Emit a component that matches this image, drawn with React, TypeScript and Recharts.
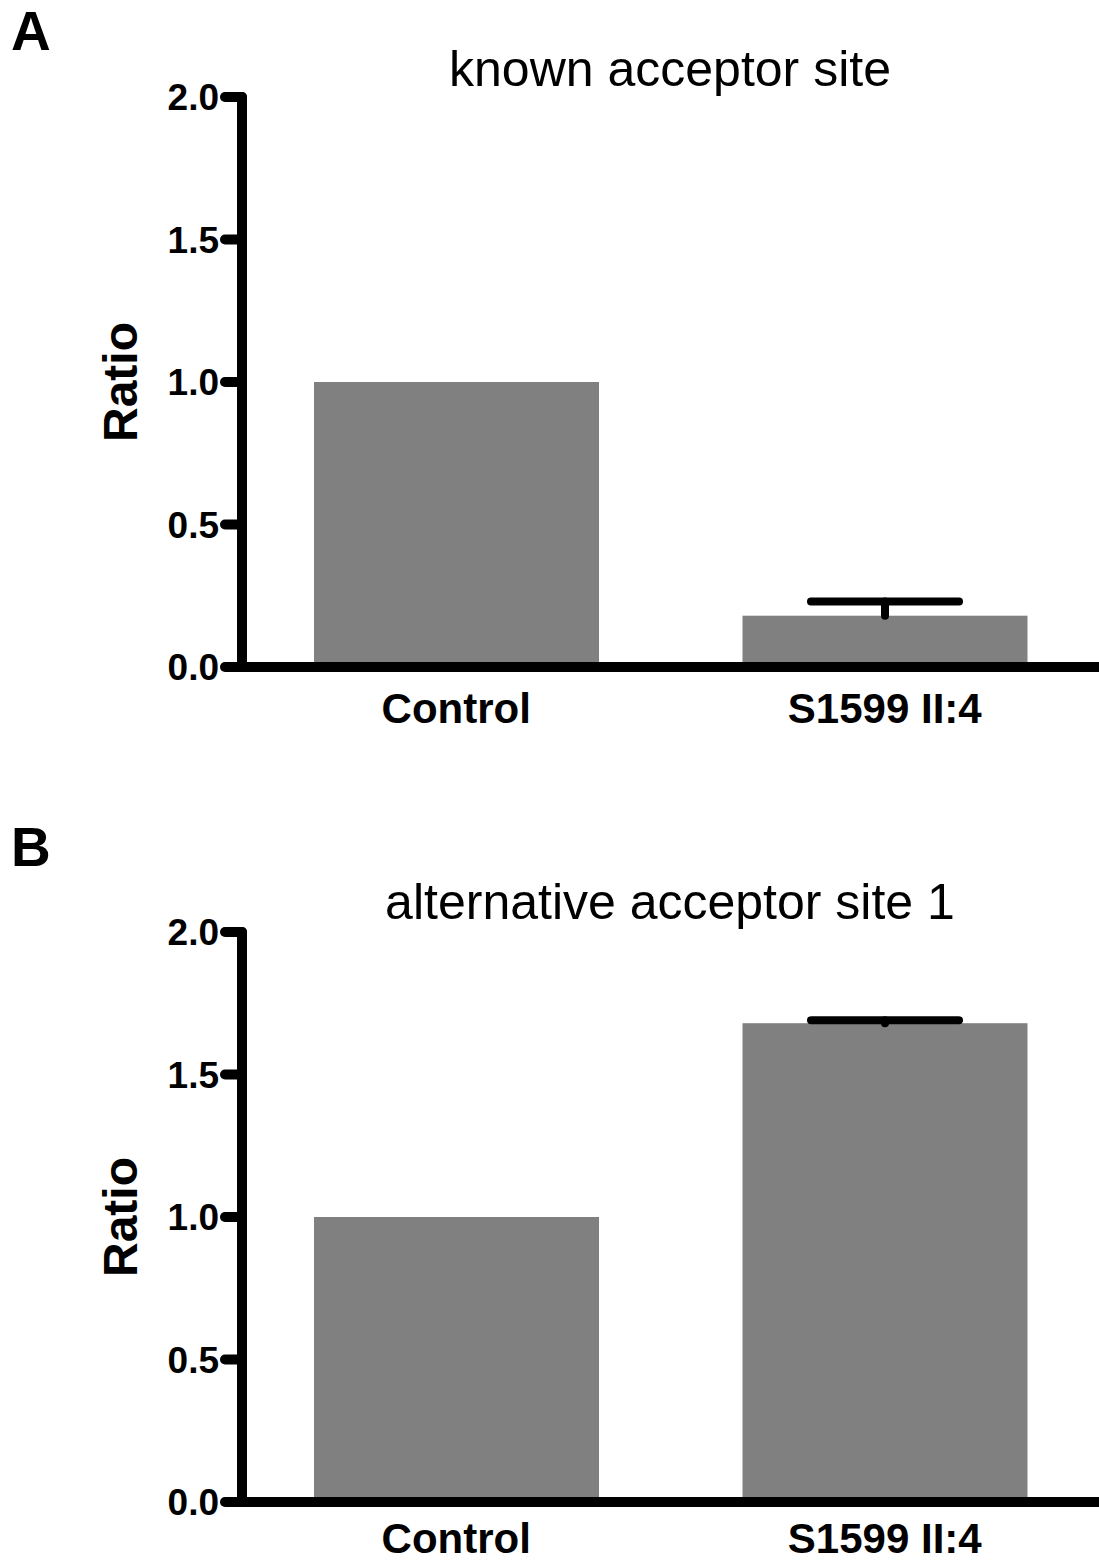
import React from 'react';
import { BarChart, Bar, XAxis, YAxis } from 'recharts';

const groups = ['Control', 'S1599 II:4'];
const knownRatio = [1.0, 0.18];
const knownErr = [0, 0.05];
const altRatio = [1.0, 1.68];
const altErr = [0, 0.01];
const yTicks = [0, 0.5, 1.0, 1.5, 2.0];

const font = '"Liberation Sans", Arial, sans-serif';

const buildRows = (vals: number[], errs: number[]) =>
    groups.map((g, i) => ({ name: g, ratio: vals[i], err: errs[i] }));

// bar with an upward-only error bar (Prism style: no lower cap)
const BarWithError = (props: any) => {
    const { x, y, width, height, payload, fill } = props;
    const cx = x + width / 2;
    const perUnit = payload.ratio ? height / payload.ratio : 0;
    const top = y - payload.err * perUnit;
    return (
        <g>
            <rect x={x} y={y} width={width} height={height} fill={fill} />
            {payload.err > 0 && (
                <g stroke="#000" strokeWidth={8} strokeLinecap="round">
                    <line x1={cx} y1={y} x2={cx} y2={top} />
                    <line x1={cx - 74} y1={top} x2={cx + 74} y2={top} />
                </g>
            )}
        </g>
    );
};

interface PanelProps {
    rows: { name: string; ratio: number; err: number }[];
    height: number;
    top: number;
    labelGap: number;
}

const Panel: React.FC<PanelProps> = ({ rows, height, top, labelGap }) => {
    const axisStyle = { stroke: '#000', strokeWidth: 10, strokeLinecap: 'round' as const };
    return (
        <div style={{ position: 'absolute', left: 0, top, width: 1099, height }}>
            <BarChart
                width={1099}
                height={height}
                data={rows}
                margin={{ top: 97, right: 0, left: 0, bottom: height - 667 - 60 }}
                barSize={285}
            >
                <Bar dataKey="ratio" fill="#808080" shape={<BarWithError />} isAnimationActive={false} />
                <XAxis
                    dataKey="name"
                    height={60}
                    axisLine={axisStyle}
                    tickLine={false}
                    tickSize={0}
                    tickMargin={labelGap}
                    tick={{ fill: '#000', fontSize: 42, fontWeight: 'bold', fontFamily: font }}
                />
                <YAxis
                    width={242}
                    domain={[0, 2]}
                    ticks={yTicks}
                    interval={0}
                    tickFormatter={(v: number) => v.toFixed(1)}
                    axisLine={axisStyle}
                    tickLine={axisStyle}
                    tickSize={17}
                    tickMargin={6}
                    tick={{ fill: '#000', fontSize: 37, fontWeight: 'bold', fontFamily: font }}
                />
            </BarChart>
        </div>
    );
};

const RatioLabel = ({ cy }: { cy: number }) => (
    <text
        x={137}
        y={cy}
        textAnchor="middle"
        transform={`rotate(-90, 137, ${cy})`}
        fontFamily={font}
        fontWeight="bold"
        fontSize={48}
        fill="#000"
    >
        Ratio
    </text>
);

export default function App() {
    return (
        <div style={{ position: 'absolute', left: 0, top: 0, width: 1099, height: 1564, background: '#fff' }}>
            <Panel rows={buildRows(knownRatio, knownErr)} height={835} top={0} labelGap={26} />
            <Panel rows={buildRows(altRatio, altErr)} height={729} top={835} labelGap={21} />
            <svg
                width={1099}
                height={1564}
                style={{ position: 'absolute', left: 0, top: 0, pointerEvents: 'none' }}
            >
                <text x={11} y={50} fontFamily={font} fontWeight="bold" fontSize={55} fill="#000">A</text>
                <text x={670} y={86} textAnchor="middle" fontFamily={font} fontSize={50} fill="#000">
                    known acceptor site
                </text>
                <RatioLabel cy={382} />
                <text x={11} y={866} fontFamily={font} fontWeight="bold" fontSize={55} fill="#000">B</text>
                <text x={670} y={919} textAnchor="middle" fontFamily={font} fontSize={50} fill="#000">
                    alternative acceptor site 1
                </text>
                <RatioLabel cy={1217} />
            </svg>
        </div>
    );
}
